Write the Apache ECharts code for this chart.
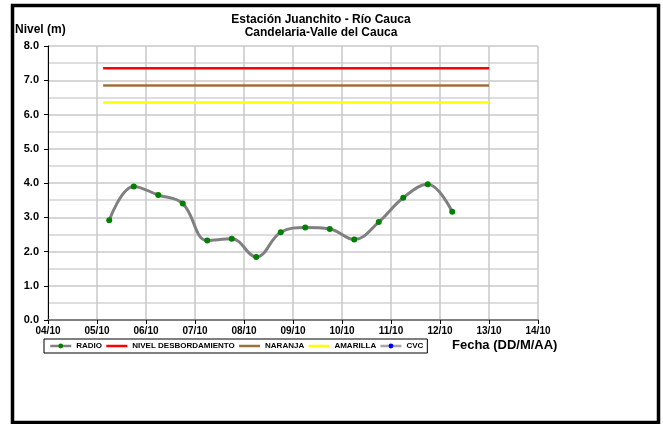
<!DOCTYPE html>
<html>
<head>
<meta charset="utf-8">
<title>Estación Juanchito - Río Cauca</title>
<script src="https://cdn.jsdelivr.net/npm/echarts@6/dist/echarts.min.js"></script>
<style>
  html, body { margin: 0; padding: 0; background: #fff; }
  #chart { width: 663px; height: 424px; }
</style>
</head>
<body>
<div id="chart"></div>
<script>
// etiquetas del eje de fechas (día 0 = 04/10)
const diasEje = ['04/10', '05/10', '06/10', '07/10', '08/10', '09/10', '10/10', '11/10', '12/10', '13/10', '14/10'];

// lecturas RADIO
const fechasRadio = ['05/10 06:00', '05/10 18:00', '06/10 06:00', '06/10 18:00', '07/10 06:00',
  '07/10 18:00', '08/10 06:00', '08/10 18:00', '09/10 06:00', '09/10 18:00',
  '10/10 06:00', '10/10 18:00', '11/10 06:00', '11/10 18:00', '12/10 06:00'];
const nivelRadio = [2.91, 3.90, 3.65, 3.40, 2.32, 2.37, 1.84, 2.56, 2.70, 2.66, 2.35, 2.86, 3.57, 3.96, 3.16];

// niveles de alerta (inicio y fin de la línea)
const fechasAlerta = ['05/10 03:00', '13/10 00:00'];
const nivelDesbordamiento = 7.35;
const nivelNaranja = 6.85;
const nivelAmarilla = 6.35;

// CVC no tiene datos en este periodo
const fechasCvc = [];
const nivelCvc = [];

// convierte 'DD/MM HH:mm' a días desde 04/10
function aDias(s) {
  const [fecha, hora] = s.split(' ');
  const dia = parseInt(fecha.split('/')[0], 10);
  const [h, m] = hora.split(':').map(Number);
  return dia - 4 + (h + m / 60) / 24;
}

const font = 'Liberation Sans, Arial, sans-serif';
const myChart = echarts.init(document.getElementById('chart'));

const lineaAlerta = (name, nivel, color) => ({
  name: name,
  type: 'line',
  symbol: 'none',
  lineStyle: {color: color, width: 2.5},
  itemStyle: {color: color},
  data: fechasAlerta.map(f => [aDias(f), nivel]),
  z: 3
});

// en la leyenda las alertas son sólo una línea, sin marcador
const itemLeyenda = (name, conMarcador) => conMarcador
  ? {name: name}
  : {name: name, itemStyle: {opacity: 0}};

const option = {
  animation: false,
  textStyle: {fontFamily: font},
  grid: {left: 48, right: 125, top: 46, bottom: 104},
  graphic: [
    {type: 'rect', shape: {x: 12.5, y: 5.5, width: 646, height: 417},
      style: {fill: 'none', stroke: '#000', lineWidth: 3.5}},
    {type: 'text', x: 321, y: 13, style: {
      text: 'Estación Juanchito - Río Cauca\nCandelaria-Valle del Cauca',
      font: 'bold 12px ' + font, fill: '#000', align: 'center', lineHeight: 13}},
    {type: 'text', x: 15, y: 24, style: {
      text: 'Nivel (m)', font: 'bold 12px ' + font, fill: '#000'}},
    {type: 'text', x: 452, y: 339, style: {
      text: 'Fecha (DD/M/AA)', font: 'bold 13px ' + font, fill: '#000'}}
  ],
  legend: {
    left: 44, top: 339,
    orient: 'horizontal',
    borderColor: '#000', borderWidth: 1,
    padding: [3, 4, 3, 5],
    itemWidth: 21, itemHeight: 6, itemGap: 3,
    lineStyle: {width: 2.5},
    textStyle: {fontSize: 8, fontWeight: 'bold', color: '#000'},
    data: [
      itemLeyenda('RADIO', true),
      itemLeyenda('NIVEL DESBORDAMIENTO', false),
      itemLeyenda('NARANJA', false),
      itemLeyenda('AMARILLA', false),
      itemLeyenda('CVC', true)
    ]
  },
  xAxis: {
    type: 'value', min: 0, max: 10, interval: 1,
    axisLine: {lineStyle: {color: '#808080', width: 2}},
    axisTick: {show: true, length: 4, lineStyle: {color: '#000'}},
    axisLabel: {
      margin: 6, fontSize: 10, fontWeight: 'bold', color: '#000',
      formatter: v => diasEje[Math.round(v)]
    },
    splitLine: {show: true, lineStyle: {color: '#c8c8c8', width: 1.5}}
  },
  yAxis: {
    type: 'value', min: 0, max: 8, interval: 1,
    axisLine: {show: true, lineStyle: {color: '#000', width: 1}},
    axisTick: {show: true, length: 4, lineStyle: {color: '#000'}},
    axisLabel: {
      margin: 9, fontSize: 11, fontWeight: 'bold', color: '#000',
      formatter: v => v.toFixed(1)
    },
    minorTick: {show: false, splitNumber: 2},
    minorSplitLine: {show: true, lineStyle: {color: '#d4d4d4', width: 1.5}},
    splitLine: {show: true, lineStyle: {color: '#c8c8c8', width: 1.5}}
  },
  series: [
    {
      name: 'RADIO',
      type: 'line',
      smooth: 0.4,
      symbol: 'circle', symbolSize: 6,
      lineStyle: {color: '#808080', width: 3},
      itemStyle: {color: '#008000'},
      data: fechasRadio.map((f, i) => [aDias(f), nivelRadio[i]]),
      z: 4
    },
    lineaAlerta('NIVEL DESBORDAMIENTO', nivelDesbordamiento, '#ff0000'),
    lineaAlerta('NARANJA', nivelNaranja, '#a0703c'),
    lineaAlerta('AMARILLA', nivelAmarilla, '#ffff00'),
    {
      name: 'CVC',
      type: 'line',
      symbol: 'circle', symbolSize: 5,
      lineStyle: {color: '#a6a6a6', width: 2.5},
      itemStyle: {color: '#0000ff'},
      data: fechasCvc.map((f, i) => [aDias(f), nivelCvc[i]])
    }
  ]
};
myChart.setOption(option);
</script>
</body>
</html>
